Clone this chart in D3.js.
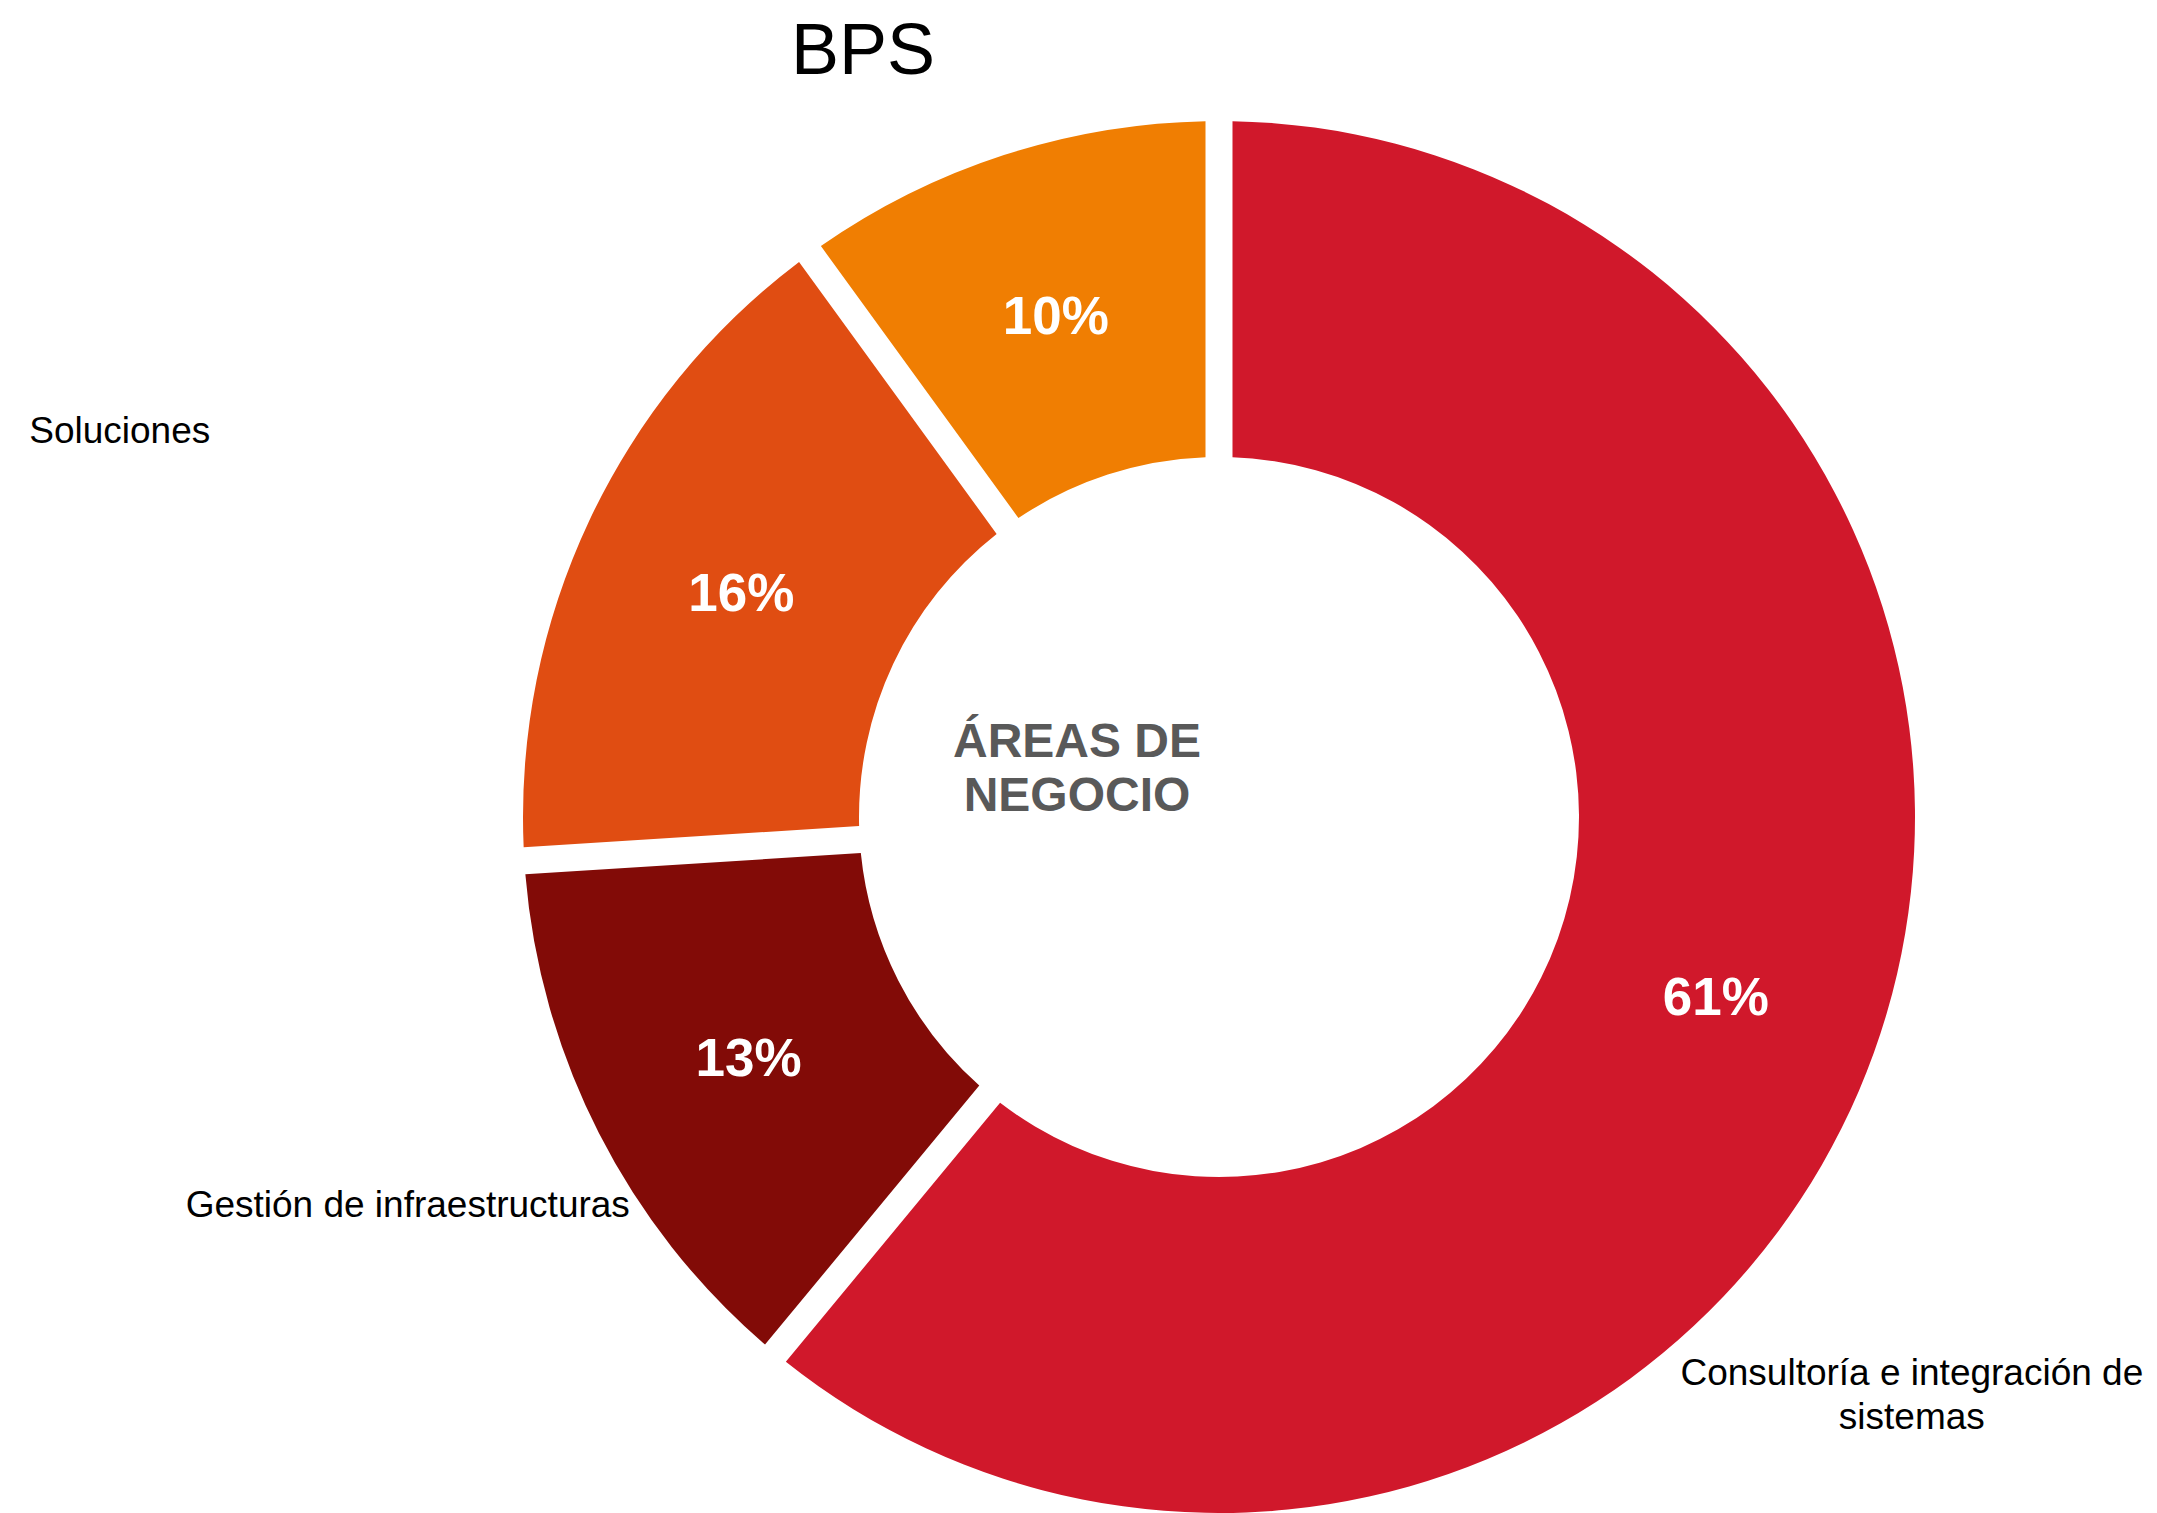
<!DOCTYPE html>
<meta charset="utf-8">
<style>
  body { margin: 0; background: #fff; }
  text { font-family: Arial, "Liberation Sans", sans-serif; }
</style>
<body>
<script src="https://d3js.org/d3.v7.min.js"></script>
<script>
  // data, clockwise from 12 o'clock
  var categories = ["Consultoría e integración de sistemas", "Gestión de infraestructuras", "Soluciones", ""];
  var values = [61, 13, 16, 10];
  var colors = ["#d0182b", "#820b07", "#e04d12", "#f07e02"];
  var title = "BPS";
  var centerLines = ["ÁREAS DE", "NEGOCIO"];

  var width = 2157, height = 1513;
  var cx = 1219, cy = 817,
    outerR = 696, innerR = 360,
    gap = 27;

  // where outside labels sit, relative to the outer edge at the slice middle
  var labelLayout = [
    { dx: 38, dy: 332, anchor: "middle", wrap: 28 },
    { dx: 31, dy: 84, anchor: "end" },
    { dx: -560, dy: -78, anchor: "start" },
    { dx: 0, dy: 0, anchor: "middle" }
  ];

  var svg = d3.select("body").append("svg")
    .attr("width", width)
    .attr("height", height);

  svg.append("rect").attr("width", width).attr("height", height).attr("fill", "#fff");

  var pie = d3.pie().sort(null).value(function (d) { return d; });

  // constant-width white gaps between slices
  var arc = d3.arc().innerRadius(innerR).outerRadius(outerR)
    .padRadius(outerR).padAngle(gap / outerR);
  var edge = d3.arc().innerRadius(outerR).outerRadius(outerR);

  var arcs = pie(values);

  var g = svg.append("g").attr("transform", "translate(" + cx + "," + cy + ")");

  g.selectAll("path.slice")
    .data(arcs)
    .enter().append("path")
    .attr("class", "slice")
    .attr("d", arc)
    .attr("fill", function (d, i) { return colors[i]; });

  g.selectAll("text.pct")
    .data(arcs)
    .enter().append("text")
    .attr("class", "pct")
    .attr("transform", function (d) { return "translate(" + arc.centroid(d) + ")"; })
    .attr("text-anchor", "middle")
    .attr("dy", "0.36em")
    .attr("fill", "#fff")
    .attr("font-weight", "bold")
    .attr("font-size", 53)
    .text(function (d) { return d.value + "%"; });

  // category labels outside the ring
  arcs.forEach(function (d, i) {
    if (!categories[i]) return;
    var p = edge.centroid(d), lay = labelLayout[i];
    var t = g.append("text")
      .attr("text-anchor", lay.anchor)
      .attr("font-size", 37)
      .attr("fill", "#000");
    var lines = categories[i];
    if (lay.wrap) {
      lines = [categories[i].slice(0, lay.wrap), categories[i].slice(lay.wrap + 1)];
    } else {
      lines = [lines];
    }
    lines.forEach(function (l, k) {
      t.append("tspan")
        .attr("x", p[0] + lay.dx)
        .attr("y", p[1] + lay.dy + k * 44)
        .text(l);
    });
  });

  // centre text
  svg.append("text")
    .attr("text-anchor", "middle")
    .attr("font-size", 48)
    .attr("font-weight", "bold")
    .attr("fill", "#595959")
    .selectAll("tspan")
    .data(centerLines)
    .enter().append("tspan")
    .attr("x", 1077)
    .attr("y", function (d, i) { return 757 + i * 54; })
    .text(function (d) { return d; });

  svg.append("text")
    .attr("x", 863)
    .attr("y", 74)
    .attr("text-anchor", "middle")
    .attr("font-size", 72)
    .attr("fill", "#000")
    .text(title);
</script>
</body>
